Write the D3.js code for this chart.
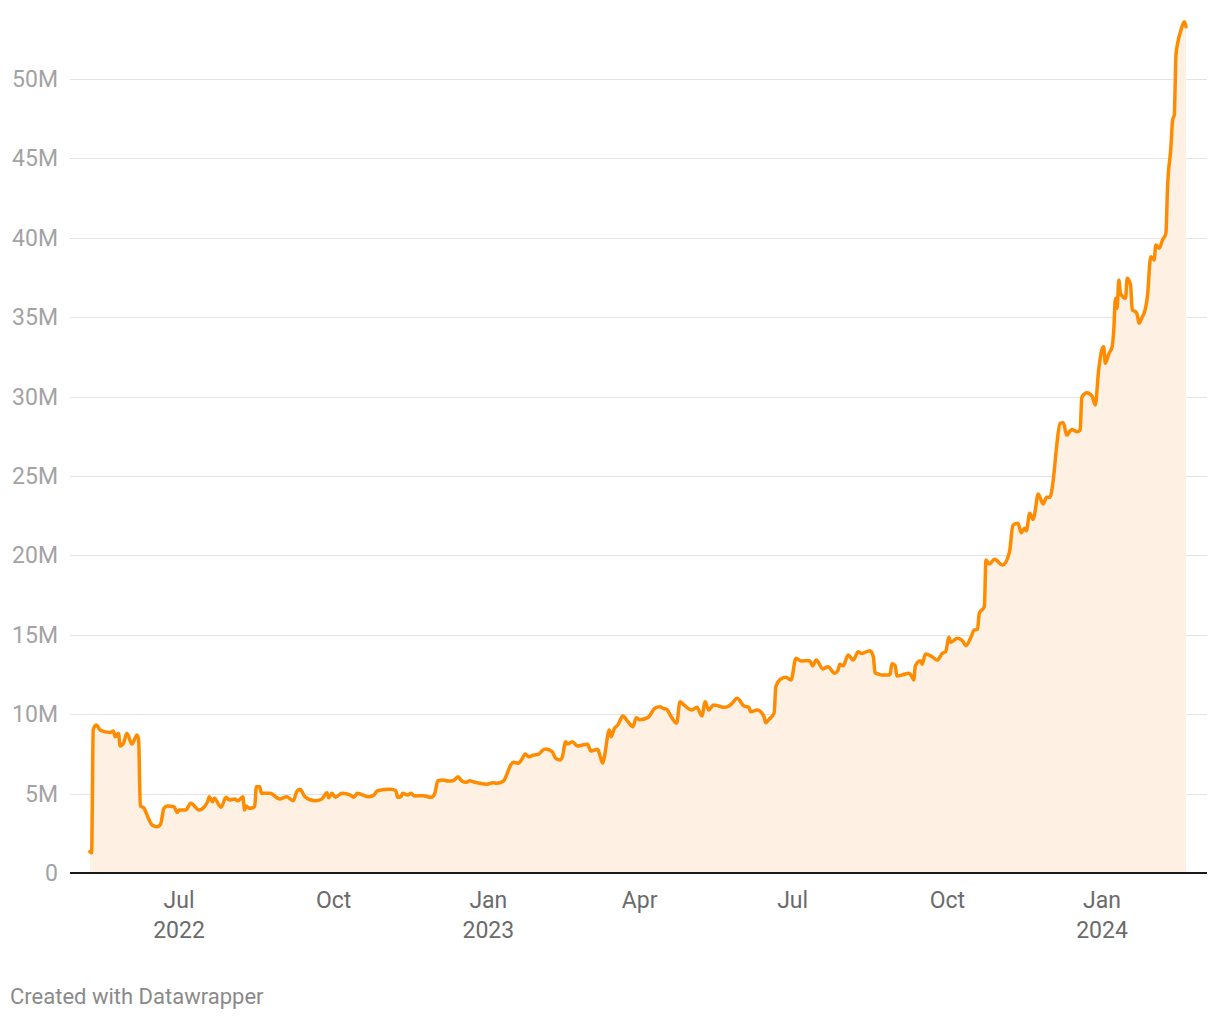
<!DOCTYPE html>
<html>
<head>
<meta charset="utf-8">
<script src="https://cdn.jsdelivr.net/npm/d3@7"></script>
<style>
  html, body { margin: 0; padding: 0; background: #fff; }
  svg { display: block; font-family: Roboto, "Noto Sans", sans-serif; }
</style>
</head>
<body>
<svg id="chart" width="1220" height="1020"></svg>
<script>
// ---- data (dates, values in millions) ----
const dates = [
"2022-05-09","2022-05-10","2022-05-11","2022-05-13","2022-05-15","2022-05-18","2022-05-21","2022-05-23","2022-05-24","2022-05-26",
"2022-05-27","2022-05-29","2022-05-31","2022-06-03","2022-06-06","2022-06-07","2022-06-08","2022-06-10","2022-06-12","2022-06-15",
"2022-06-18","2022-06-20","2022-06-22","2022-06-24","2022-06-28","2022-06-30","2022-07-01","2022-07-05","2022-07-08","2022-07-13",
"2022-07-18","2022-07-19","2022-07-21","2022-07-22","2022-07-26","2022-07-29","2022-07-31","2022-08-03","2022-08-05","2022-08-08",
"2022-08-09","2022-08-10","2022-08-12","2022-08-15","2022-08-16","2022-08-18","2022-08-19","2022-08-24","2022-08-30","2022-09-03",
"2022-09-07","2022-09-09","2022-09-11","2022-09-14","2022-09-20","2022-09-24","2022-09-27","2022-09-28","2022-09-30","2022-10-02",
"2022-10-06","2022-10-11","2022-10-13","2022-10-15","2022-10-22","2022-10-25","2022-10-27","2022-11-04","2022-11-07","2022-11-08",
"2022-11-10","2022-11-11","2022-11-14","2022-11-16","2022-11-18","2022-11-23","2022-11-28","2022-11-30","2022-12-02","2022-12-05",
"2022-12-08","2022-12-11","2022-12-14","2022-12-16","2022-12-19","2022-12-21","2022-12-23","2022-12-27","2022-12-31","2023-01-04",
"2023-01-06","2023-01-10","2023-01-12","2023-01-14","2023-01-16","2023-01-19","2023-01-21","2023-01-23","2023-01-25","2023-01-28",
"2023-01-31","2023-02-02","2023-02-04","2023-02-08","2023-02-10","2023-02-13","2023-02-14","2023-02-16","2023-02-17","2023-02-20",
"2023-02-23","2023-02-26","2023-03-01","2023-03-03","2023-03-07","2023-03-08","2023-03-10","2023-03-11","2023-03-14","2023-03-15",
"2023-03-17","2023-03-19","2023-03-22","2023-03-25","2023-03-28","2023-03-30","2023-04-01","2023-04-06","2023-04-10","2023-04-13",
"2023-04-15","2023-04-17","2023-04-20","2023-04-23","2023-04-25","2023-04-28","2023-05-02","2023-05-05","2023-05-08","2023-05-10",
"2023-05-12","2023-05-15","2023-05-18","2023-05-21","2023-05-24","2023-05-26","2023-05-29","2023-06-02","2023-06-05","2023-06-06",
"2023-06-10","2023-06-14","2023-06-15","2023-06-17","2023-06-20","2023-06-21","2023-06-24","2023-06-27","2023-06-30","2023-07-03",
"2023-07-06","2023-07-11","2023-07-13","2023-07-15","2023-07-19","2023-07-22","2023-07-26","2023-07-28","2023-07-29","2023-07-31",
"2023-08-03","2023-08-06","2023-08-09","2023-08-11","2023-08-16","2023-08-18","2023-08-19","2023-08-21","2023-08-23","2023-08-27",
"2023-08-28","2023-08-29","2023-08-31","2023-09-01","2023-09-05","2023-09-08","2023-09-10","2023-09-11","2023-09-12","2023-09-15",
"2023-09-16","2023-09-18","2023-09-22","2023-09-25","2023-09-28","2023-09-30","2023-10-02","2023-10-03","2023-10-07","2023-10-10",
"2023-10-12","2023-10-15","2023-10-17","2023-10-19","2023-10-20","2023-10-23","2023-10-24","2023-10-26","2023-10-29","2023-11-03",
"2023-11-07","2023-11-09","2023-11-12","2023-11-14","2023-11-16","2023-11-17","2023-11-19","2023-11-21","2023-11-22","2023-11-24",
"2023-11-27","2023-11-29","2023-12-01","2023-12-03","2023-12-05","2023-12-07","2023-12-09","2023-12-11","2023-12-14","2023-12-17",
"2023-12-19","2023-12-20","2023-12-23","2023-12-26","2023-12-28","2023-12-30","2024-01-01","2024-01-02","2024-01-03","2024-01-05",
"2024-01-07","2024-01-08","2024-01-09","2024-01-10","2024-01-11","2024-01-12","2024-01-15","2024-01-16","2024-01-18","2024-01-19",
"2024-01-21","2024-01-22","2024-01-23","2024-01-25","2024-01-26","2024-01-28","2024-01-30","2024-02-01","2024-02-02","2024-02-04",
"2024-02-06","2024-02-08","2024-02-09","2024-02-11","2024-02-12","2024-02-13","2024-02-14","2024-02-15","2024-02-17","2024-02-19",
"2024-02-20"
];
const values = [
1.34,1.27,9.05,9.32,9.00,8.90,8.84,8.94,8.58,8.80,
8.00,8.18,8.80,8.12,8.69,8.38,4.22,4.11,3.65,3.02,
2.92,3.06,4.07,4.22,4.17,3.82,3.97,3.97,4.39,3.97,
4.49,4.80,4.49,4.70,4.14,4.77,4.60,4.66,4.55,4.80,
3.97,4.22,4.07,4.17,5.43,5.43,5.02,5.02,4.66,4.80,
4.55,5.12,5.27,4.80,4.55,4.66,5.06,4.74,5.02,4.77,
5.02,4.91,4.77,5.02,4.80,4.91,5.18,5.27,5.18,4.77,
4.80,5.02,4.91,5.02,4.85,4.87,4.77,4.97,5.81,5.86,
5.79,5.81,6.06,5.81,5.71,5.81,5.75,5.65,5.59,5.69,
5.65,5.79,6.21,6.74,6.97,6.91,7.18,7.49,7.32,7.43,
7.49,7.70,7.81,7.64,7.22,7.12,7.32,8.27,8.12,8.27,
8.00,8.06,8.10,7.68,7.79,7.54,6.91,7.32,9.00,8.58,
9.11,9.32,9.89,9.53,9.21,9.77,9.65,9.80,10.37,10.47,
10.37,10.31,9.80,9.43,10.79,10.52,10.26,10.43,9.89,10.79,
10.26,10.58,10.52,10.43,10.52,10.69,11.00,10.52,10.43,10.16,
10.26,9.84,9.46,9.68,10.09,11.73,12.22,12.32,12.15,13.52,
13.35,13.37,13.04,13.41,12.85,12.99,12.58,12.78,13.14,13.04,
13.73,13.41,13.94,13.83,14.00,13.62,12.61,12.53,12.47,12.47,
12.53,13.17,13.06,12.40,12.50,12.58,12.36,12.15,13.05,13.37,
13.14,13.79,13.62,13.41,13.83,13.94,14.84,14.53,14.78,14.63,
14.31,14.84,15.30,15.35,16.35,16.77,19.71,19.46,19.75,19.40,
20.23,21.91,22.02,21.43,21.71,21.56,22.65,22.27,22.65,23.87,
23.24,23.66,23.66,24.75,26.85,28.32,28.36,27.58,27.93,27.79,
27.90,29.96,30.25,30.04,29.47,31.67,32.98,33.14,32.10,32.68,
33.14,34.19,36.19,35.56,37.34,36.50,36.19,37.45,37.03,35.45,
35.35,35.14,34.62,35.03,35.24,36.29,38.81,38.60,39.55,39.34,
39.86,40.28,43.21,45.73,47.42,47.73,51.51,52.25,53.09,53.61,
53.29
];
const yTicks = [0, 5, 10, 15, 20, 25, 30, 35, 40, 45, 50];
const yTickLabels = ["0","5M","10M","15M","20M","25M","30M","35M","40M","45M","50M"];
const xTicks = ["2022-07-01","2022-10-01","2023-01-01","2023-04-01","2023-07-01","2023-10-01","2024-01-01"];
const xTickMonth = ["Jul","Oct","Jan","Apr","Jul","Oct","Jan"];
const xTickYear = ["2022","","2023","","","","2024"];
const footer = "Created with Datawrapper";

// ---- drawing ----
const parse = d3.timeParse("%Y-%m-%d");
const data = dates.map((d, i) => ({ date: parse(d), value: values[i] }));

const svg = d3.select("#chart");
const left = 70, right = 1207, baseY = 873, topY = 79;

const x = d3.scaleTime()
  .domain([parse("2022-07-01"), parse("2024-01-01")])
  .range([179, 1102]);
const y = d3.scaleLinear().domain([0, 50]).range([baseY, topY]);

// gridlines
svg.append("g").selectAll("line")
  .data(yTicks.filter(t => t > 0))
  .join("line")
  .attr("x1", left).attr("x2", right)
  .attr("y1", d => Math.round(y(d)) + 0.5).attr("y2", d => Math.round(y(d)) + 0.5)
  .attr("stroke", "#e3e3e3").attr("stroke-width", 1);

// y labels
svg.append("g").selectAll("text")
  .data(yTicks)
  .join("text")
  .attr("x", 58).attr("y", d => y(d))
  .attr("dy", "0.35em")
  .attr("text-anchor", "end")
  .attr("font-size", 23)
  .attr("fill", "#a3a3a3")
  .text((d, i) => yTickLabels[i]);

// area
const area = d3.area()
  .x(d => x(d.date)).y0(y(0)).y1(d => y(d.value))
  .curve(d3.curveMonotoneX);
svg.append("path").datum(data)
  .attr("d", area).attr("fill", "#fef1e3");

// baseline
svg.append("line")
  .attr("x1", left).attr("x2", right)
  .attr("y1", baseY).attr("y2", baseY)
  .attr("stroke", "#1a1a1a").attr("stroke-width", 2);

// line
const line = d3.line()
  .x(d => x(d.date)).y(d => y(d.value))
  .curve(d3.curveMonotoneX);
svg.append("path").datum(data)
  .attr("d", line)
  .attr("fill", "none")
  .attr("stroke", "#ff8c00")
  .attr("stroke-width", 3.5)
  .attr("stroke-linejoin", "round")
  .attr("stroke-linecap", "round");

// x labels
const xg = svg.append("g").selectAll("g")
  .data(xTicks)
  .join("g")
  .attr("transform", d => `translate(${x(parse(d))},0)`);
xg.append("text")
  .attr("y", 908).attr("text-anchor", "middle")
  .attr("font-size", 23).attr("fill", "#6b6b6b")
  .text((d, i) => xTickMonth[i]);
xg.append("text")
  .attr("y", 938).attr("text-anchor", "middle")
  .attr("font-size", 23).attr("fill", "#6b6b6b")
  .text((d, i) => xTickYear[i]);

// footer
svg.append("text")
  .attr("x", 10).attr("y", 1004)
  .attr("font-size", 22).attr("fill", "#8a8a8a")
  .text(footer);
</script>
</body>
</html>
